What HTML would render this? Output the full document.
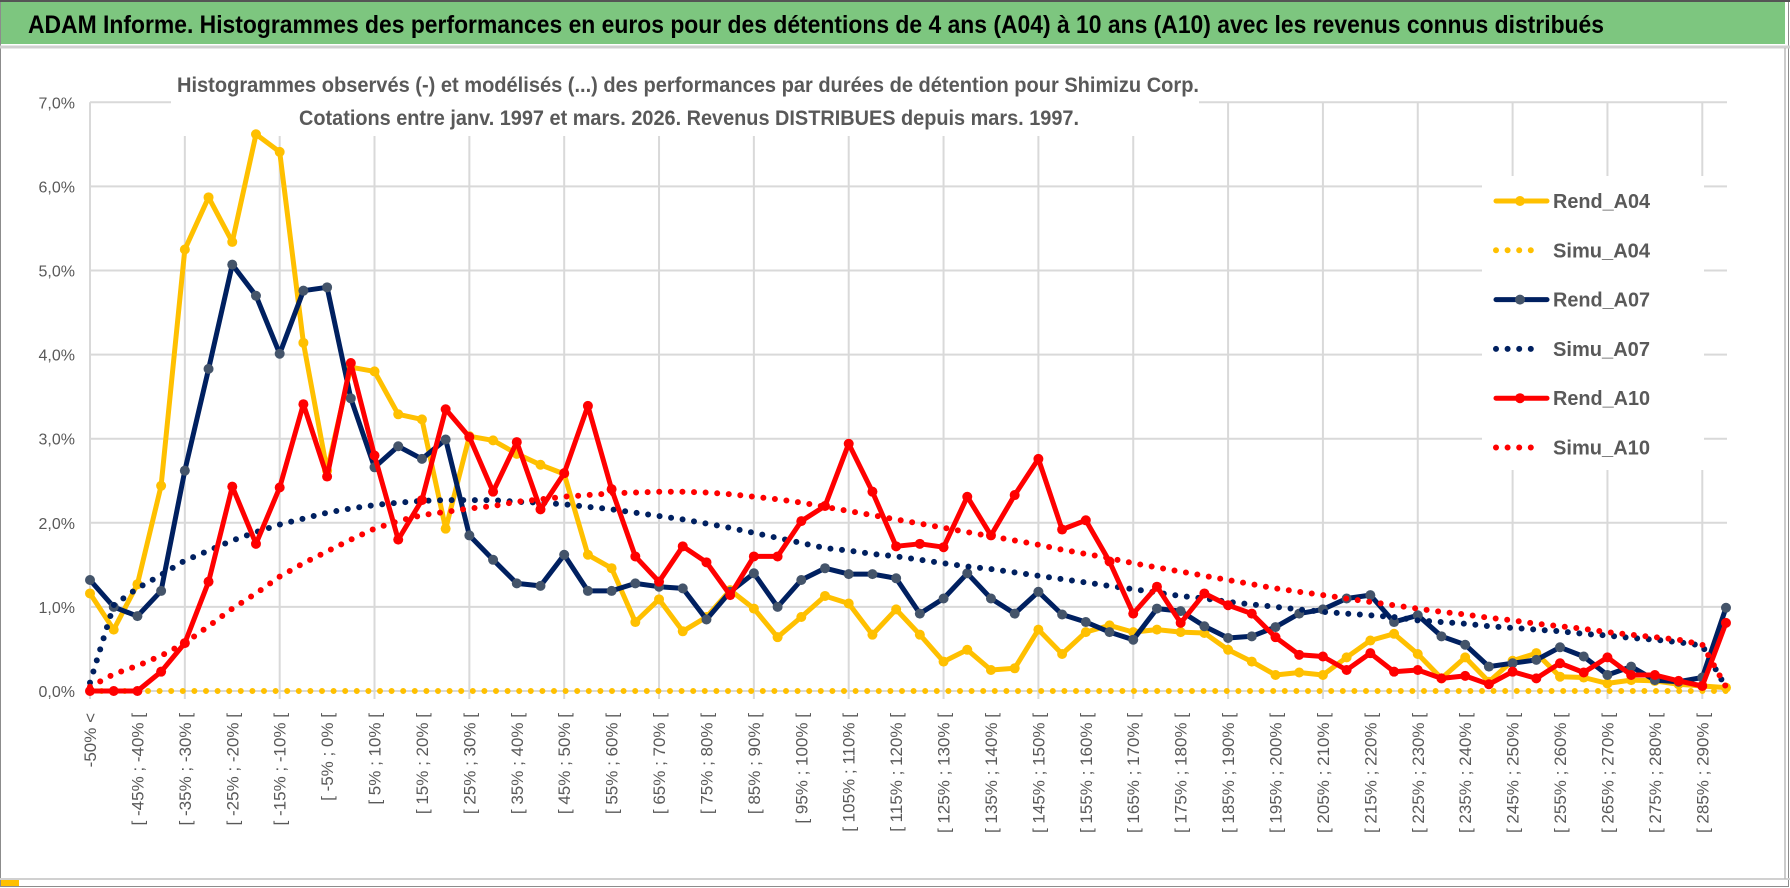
<!DOCTYPE html>
<html><head><meta charset="utf-8">
<style>
html,body{margin:0;padding:0;background:#fff;}
svg{display:block;font-family:"Liberation Sans",sans-serif;}
</style></head>
<body>
<svg id="chart" width="1790" height="888" viewBox="0 0 1790 888" xmlns="http://www.w3.org/2000/svg">
  <rect x="0.5" y="0.5" width="1788" height="886" fill="#fff" stroke="#8c8c8c"/>
  <rect x="1" y="2" width="1784" height="42" fill="#7dc67f"/>
  <line x1="0" y1="1" x2="1790" y2="1" stroke="#555" stroke-width="2"/>
  <line x1="0" y1="47" x2="1790" y2="47" stroke="#d0d0d0" stroke-width="3"/>
  <text x="28" y="33" font-size="25" font-weight="bold" fill="#000" textLength="1576" lengthAdjust="spacingAndGlyphs">ADAM Informe. Histogrammes des performances en euros pour des détentions de 4 ans (A04) à 10 ans (A10) avec les revenus connus distribués</text>
  <line x1="0" y1="879" x2="1790" y2="879" stroke="#d0d0d0" stroke-width="2"/>
  <rect x="1" y="880" width="18" height="6" fill="#ffc000"/>
  <line x1="1785" y1="48" x2="1785" y2="879" stroke="#bbb" stroke-width="1.5"/>
  <g id="grid"></g>
  <g id="yaxis"></g>
  <g id="xaxis"></g>
  <rect x="171" y="58" width="1028" height="78" fill="#fff"/>
  <text x="177" y="92" font-size="21" font-weight="bold" fill="#595959" textLength="1022" lengthAdjust="spacingAndGlyphs">Histogrammes observés (-) et modélisés (...) des performances par durées de détention pour Shimizu Corp.</text>
  <text x="299" y="125" font-size="21" font-weight="bold" fill="#595959" textLength="780" lengthAdjust="spacingAndGlyphs">Cotations entre janv. 1997 et mars. 2026. Revenus DISTRIBUES depuis mars. 1997.</text>
  <g id="series"></g>
  <g id="legend"></g>
</svg>
<script>
const categoryCount = 70;
const yTicks = [0,1,2,3,4,5,6,7];
const yTickLabels = ["0,0%","1,0%","2,0%","3,0%","4,0%","5,0%","6,0%","7,0%"];
const rendA04 = [1.16,0.73,1.27,2.44,5.25,5.87,5.34,6.62,6.41,4.14,2.62,3.85,3.80,3.29,3.23,1.93,3.03,2.98,2.82,2.69,2.58,1.62,1.46,0.82,1.09,0.71,0.88,1.20,0.98,0.64,0.88,1.13,1.04,0.67,0.97,0.67,0.35,0.49,0.25,0.27,0.73,0.44,0.70,0.78,0.70,0.73,0.70,0.69,0.49,0.35,0.19,0.22,0.19,0.40,0.60,0.68,0.44,0.15,0.40,0.11,0.36,0.45,0.17,0.16,0.09,0.13,0.12,0.08,0.06,0.04];
const simuA04 = [0,0,0,0,0,0,0,0,0,0,0,0,0,0,0,0,0,0,0,0,0,0,0,0,0,0,0,0,0,0,0,0,0,0,0,0,0,0,0,0,0,0,0,0,0,0,0,0,0,0,0,0,0,0,0,0,0,0,0,0,0,0,0,0,0,0,0,0,0,0];
const rendA07 = [1.32,1.00,0.89,1.19,2.62,3.83,5.07,4.70,4.01,4.76,4.80,3.48,2.66,2.91,2.76,2.99,1.85,1.56,1.28,1.25,1.62,1.19,1.19,1.28,1.24,1.22,0.85,1.18,1.40,1.00,1.32,1.46,1.39,1.39,1.34,0.92,1.10,1.40,1.10,0.92,1.18,0.91,0.82,0.70,0.61,0.98,0.95,0.77,0.63,0.65,0.76,0.92,0.97,1.10,1.14,0.82,0.90,0.65,0.55,0.29,0.33,0.37,0.52,0.41,0.19,0.29,0.13,0.11,0.16,0.99];
const simuA07 = [0.10,1.02,1.22,1.38,1.55,1.67,1.79,1.89,1.98,2.05,2.12,2.17,2.21,2.24,2.26,2.27,2.27,2.27,2.25,2.24,2.22,2.19,2.16,2.12,2.08,2.04,1.99,1.94,1.88,1.82,1.76,1.70,1.67,1.63,1.60,1.56,1.52,1.48,1.45,1.41,1.37,1.33,1.29,1.25,1.21,1.17,1.13,1.10,1.06,1.03,1.00,0.97,0.94,0.92,0.90,0.88,0.84,0.82,0.80,0.77,0.75,0.73,0.71,0.68,0.66,0.63,0.61,0.58,0.54,0.04];
const rendA10 = [0,0,0,0.23,0.57,1.30,2.43,1.75,2.42,3.41,2.55,3.90,2.80,1.80,2.27,3.35,3.02,2.37,2.96,2.16,2.59,3.39,2.40,1.60,1.30,1.72,1.53,1.14,1.60,1.60,2.02,2.20,2.94,2.37,1.72,1.75,1.71,2.31,1.85,2.33,2.76,1.92,2.03,1.54,0.92,1.24,0.81,1.16,1.02,0.92,0.64,0.43,0.41,0.25,0.45,0.23,0.25,0.15,0.18,0.08,0.23,0.15,0.33,0.22,0.40,0.19,0.19,0.12,0.06,0.81];
const simuA10 = [0.05,0.20,0.30,0.42,0.57,0.77,0.98,1.16,1.36,1.52,1.66,1.80,1.93,2.02,2.09,2.13,2.17,2.20,2.25,2.28,2.31,2.33,2.35,2.36,2.37,2.37,2.36,2.34,2.31,2.28,2.24,2.19,2.14,2.09,2.04,1.99,1.94,1.89,1.84,1.79,1.74,1.68,1.63,1.58,1.52,1.47,1.42,1.37,1.32,1.27,1.22,1.18,1.14,1.10,1.06,1.02,0.98,0.94,0.91,0.87,0.84,0.80,0.77,0.74,0.70,0.67,0.64,0.61,0.55,0.05];
const seriesNames = ["Rend_A04","Simu_A04","Rend_A07","Simu_A07","Rend_A10","Simu_A10"];

const NS = "http://www.w3.org/2000/svg";
const X0 = 90, XSTEP = 23.71, Y0 = 691, YUNIT = 84.1, XRIGHT = 1727;
function xPos(i){ return X0 + i * XSTEP; }
function yPos(v){ return Y0 - v * YUNIT; }
function mk(tag, attrs, parent){ const e = document.createElementNS(NS, tag); for (const k in attrs) e.setAttribute(k, attrs[k]); parent.appendChild(e); return e; }
function catLabel(i){ if (i === 0) return "-50% <"; return "[ " + (-55 + 5*i) + "% ; " + (-50 + 5*i) + "% ["; }

const grid = document.getElementById("grid");
yTicks.forEach(function(t){
  const l = mk("line", {x1: X0, x2: XRIGHT, y1: yPos(t), y2: yPos(t), stroke: "#d9d9d9", "stroke-width": 2}, grid);
  
  
});
for (let i = 0; i < categoryCount; i += 4) {
  const l = mk("line", {x1: xPos(i), x2: xPos(i), y1: yPos(7), y2: Y0 + 8, stroke: "#d9d9d9", "stroke-width": 2}, grid);
  
  
}
const yaxis = document.getElementById("yaxis");
yTicks.forEach(function(t, k){
  const tx = mk("text", {x: 75, y: yPos(t) + 6, "text-anchor": "end", "font-size": 16, fill: "#595959"}, yaxis);
  tx.textContent = yTickLabels[k];
  
  
});
const xaxis = document.getElementById("xaxis");
for (let i = 0; i < categoryCount; i += 2) {
  const tx = mk("text", {transform: "translate(" + (xPos(i) + 6) + ",713) rotate(-90)", "text-anchor": "end", "font-size": 17, fill: "#595959"}, xaxis);
  tx.textContent = catLabel(i);
  
  
}

const sg = document.getElementById("series");
function drawLine(vals, color, markerColor, name){
  const pts = vals.map(function(v, i){ return xPos(i).toFixed(1) + "," + yPos(v).toFixed(1); }).join(" ");
  const p = mk("polyline", {points: pts, fill: "none", stroke: color, "stroke-width": 5, "stroke-linejoin": "round", "stroke-linecap": "round"}, sg);
  
  
  vals.forEach(function(v, i){
    const c = mk("circle", {cx: xPos(i), cy: yPos(v), r: 5, fill: markerColor}, sg);
    
    
  });
}
function drawDotted(vals, color, name){
  const pts = vals.map(function(v, i){ return xPos(i).toFixed(1) + "," + yPos(v).toFixed(1); }).join(" ");
  const p = mk("polyline", {points: pts, fill: "none", stroke: color, "stroke-width": 6, "stroke-linecap": "round", "stroke-dasharray": "0 11.6"}, sg);
  
  
}
drawLine(rendA04, "#ffc000", "#ffc000", "rend-a04");
drawDotted(simuA04, "#ffc000", "simu-a04");
drawLine(rendA07, "#002060", "#44546a", "rend-a07");
drawDotted(simuA07, "#002060", "simu-a07");
drawLine(rendA10, "#ff0000", "#ff0000", "rend-a10");
drawDotted(simuA10, "#ff0000", "simu-a10");

const lg = document.getElementById("legend");
const bg = mk("rect", {x: 1482, y: 176, width: 222, height: 294, fill: "#fff"}, lg);


const legendColors = ["#ffc000","#ffc000","#002060","#002060","#ff0000","#ff0000"];
const legendMarkers = ["#ffc000","#ffc000","#44546a","#002060","#ff0000","#ff0000"];
seriesNames.forEach(function(nm, k){
  const y = 201 + k * 49.3;
  const g = mk("g", {}, lg);
  
  
  if (k % 2 === 0) {
    mk("line", {x1: 1496, x2: 1547, y1: y, y2: y, stroke: legendColors[k], "stroke-width": 5, "stroke-linecap": "round"}, g);
    mk("circle", {cx: 1520, cy: y, r: 5, fill: legendMarkers[k]}, g);
  } else {
    mk("line", {x1: 1496, x2: 1537, y1: y, y2: y, stroke: legendColors[k], "stroke-width": 6, "stroke-linecap": "round", "stroke-dasharray": "0 11.6"}, g);
  }
  const t = mk("text", {x: 1553, y: y + 7, "font-size": 20, "font-weight": "bold", fill: "#595959", textLength: 97, lengthAdjust: "spacingAndGlyphs"}, g);
  t.textContent = nm;
});
</script>
</body></html>
